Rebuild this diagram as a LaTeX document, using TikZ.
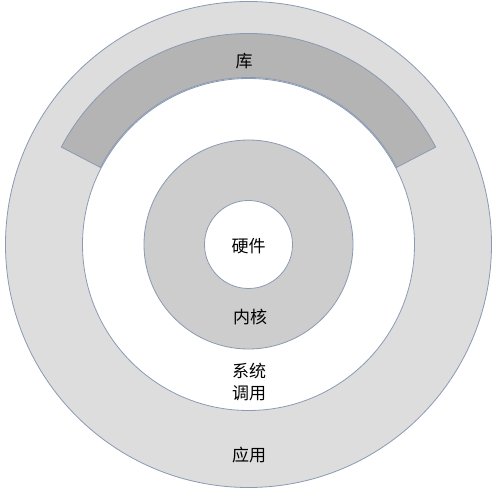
\documentclass[tikz,border=0pt]{standalone}
\usepackage{fontspec}
\newfontfamily\cjk{Noto Sans CJK SC}
\definecolor{edge}{HTML}{8A9AB3}
\definecolor{outerfill}{HTML}{DDDDDD}
\definecolor{bandfill}{HTML}{B4B4B4}
\definecolor{kernfill}{HTML}{CDCDCD}
\tikzset{
  ring/.style={draw=edge, line width=0.8pt},
  lbl/.style={font=\cjk\fontsize{17}{22.6}\selectfont, align=center, text=black, inner sep=0pt},
}
\begin{document}
\begin{tikzpicture}[x=1pt,y=1pt]
\useasboundingbox (0,0) rectangle (501,498);
\coordinate (c) at (248.5,253.5);
\fill[white] (0,0) rectangle (501,498);
% application ring
\draw[ring, fill=outerfill] (c) circle[radius=243];
% system call area
\draw[ring, fill=white] (c) circle[radius=166];
% library band
\draw[ring, fill=bandfill] ([shift={(27.5:211)}]c) arc[start angle=27.5, end angle=152.5, radius=211]
  -- ([shift={(152.5:167)}]c) arc[start angle=152.5, end angle=27.5, radius=167] -- cycle;
% kernel
\draw[ring, fill=kernfill] (c) circle[radius=104.5];
% hardware
\draw[ring, fill=white] (c) circle[radius=44];
% labels
\node[lbl] (lib) at (244,437) {库};
\node[lbl] (hw) at (248.5,252) {硬件};
\node[lbl] (kern) at (250,181.3) {内核};
\node[lbl] (sys) at (249,116) {系统\\调用};
\node[lbl] (app) at (249,43) {应用};
\end{tikzpicture}
\end{document}
